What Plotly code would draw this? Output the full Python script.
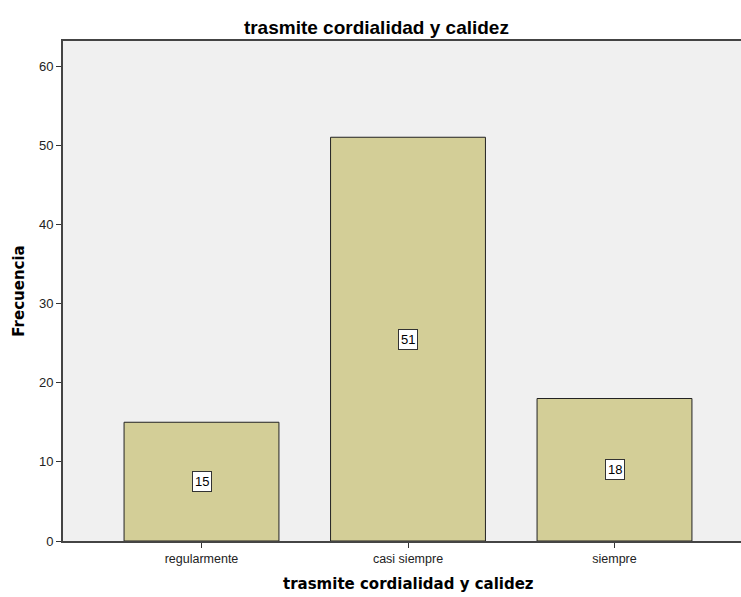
import plotly.graph_objects as go

categories = ["regularmente", "casi siempre", "siempre"]
values = [15, 51, 18]
y_ticks = [0, 10, 20, 30, 40, 50, 60]
title_text = "trasmite cordialidad y calidez"
x_title = "trasmite cordialidad y calidez"
y_title = "Frecuencia"

xpos = list(range(len(categories)))

fig = go.Figure()
fig.add_trace(go.Bar(
    x=xpos, y=values, width=0.75,
    marker=dict(color="#d3ce97", line=dict(color="#222222", width=1)),
    hoverinfo="skip",
))

for xi, v in zip(xpos, values):
    fig.add_annotation(
        x=xi, y=v / 2, text=str(v), showarrow=False,
        font=dict(family="Liberation Sans, Arial", size=13, color="black"),
        bgcolor="white", bordercolor="#333333", borderwidth=1, borderpad=2,
    )

# x-axis title centred on the middle category, as in the reference
fig.add_annotation(
    x=1, xref="x", y=-0.086, yref="paper", xanchor="center", yanchor="middle",
    text="<b>" + x_title + "</b>", showarrow=False,
    font=dict(family="DejaVu Sans", size=15, color="black"),
)

fig.update_layout(
    width=741, height=597,
    margin=dict(l=63, r=0, t=41, b=56),
    paper_bgcolor="white", plot_bgcolor="#f0f0f0",
    showlegend=False,
    title=dict(text="<b>" + title_text + "</b>", x=0.508, xanchor="center",
               y=0.955, yanchor="middle", xref="container", yref="container",
               font=dict(family="Liberation Sans, Arial", size=19, color="black")),
    font=dict(family="Liberation Sans, Arial", size=13, color="#222222"),
)
fig.update_xaxes(
    range=[-0.6707, 2.6126], tickmode="array", tickvals=xpos, ticktext=categories,
    ticks="outside", ticklen=5, tickcolor="#333333", showgrid=False, zeroline=False,
    showline=True, linecolor="#444444", linewidth=2, mirror=True, automargin=False,
    tickfont=dict(size=12.5, color="#222222"),
)
fig.update_yaxes(
    range=[0, 63.16], tickvals=y_ticks, ticks="outside", ticklen=5, tickcolor="#333333",
    showgrid=False, zeroline=False, showline=True, linecolor="#444444", linewidth=2,
    automargin=False,
    title=dict(text="<b>" + y_title + "</b>", standoff=11,
               font=dict(family="DejaVu Sans", size=15, color="black")),
    tickfont=dict(size=13, color="#222222"),
)

fig.write_html("out.html", config={"displayModeBar": False},
               post_script="document.body.style.margin='0';document.body.style.overflow='hidden';")
